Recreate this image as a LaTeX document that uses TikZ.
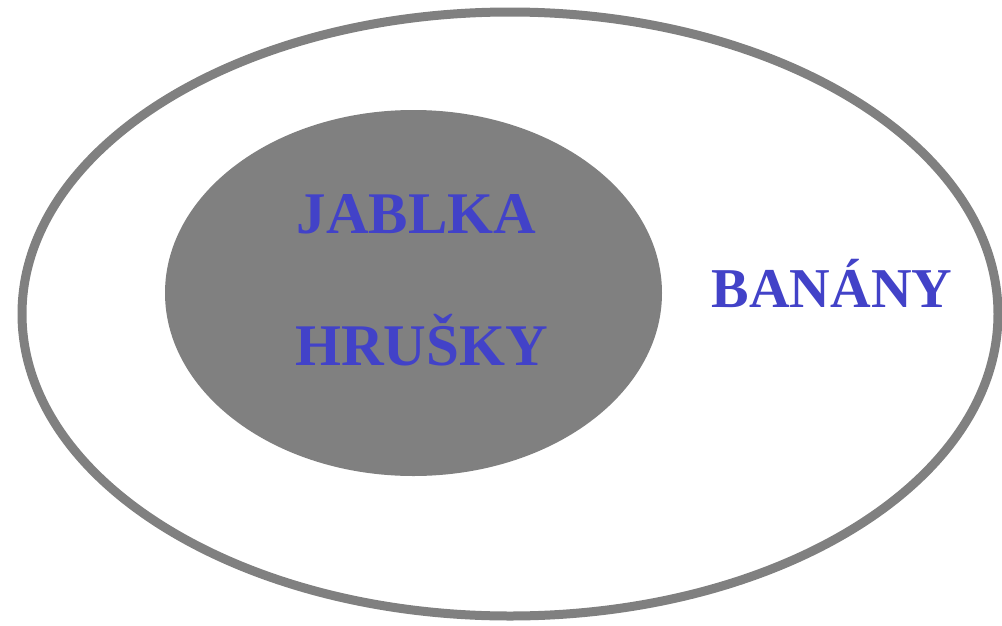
\documentclass[tikz,border=0pt]{standalone}
\usepackage{fontspec}
\setmainfont{Liberation Serif}
\definecolor{seda}{RGB}{128,128,128}
\definecolor{modra}{RGB}{66,66,200}
\begin{document}
\begin{tikzpicture}[x=0.025cm,y=-0.025cm, line join=round, line cap=round,
	ovoce/.style={text=modra,font=\bfseries\fontsize{42}{50}\selectfont,anchor=base,inner sep=0pt}]
					\useasboundingbox (0,0) rectangle (1002,626);
					\draw[line width=9*0.025cm,draw=seda] (510,314) ellipse [x radius=488, y radius=302];
					\fill[seda] (413.5,293) ellipse [x radius=248.5, y radius=183];
					\node[ovoce] (jablka) at (416.5,233) {JABLKA};
					\node[ovoce] (hrusky) at (421.5,365) {HRUŠKY};
					\node[ovoce,font=\bfseries\fontsize{40}{48}\selectfont] (banany) at (832,307) {BANÁNY};
				\end{tikzpicture}
\end{document}
